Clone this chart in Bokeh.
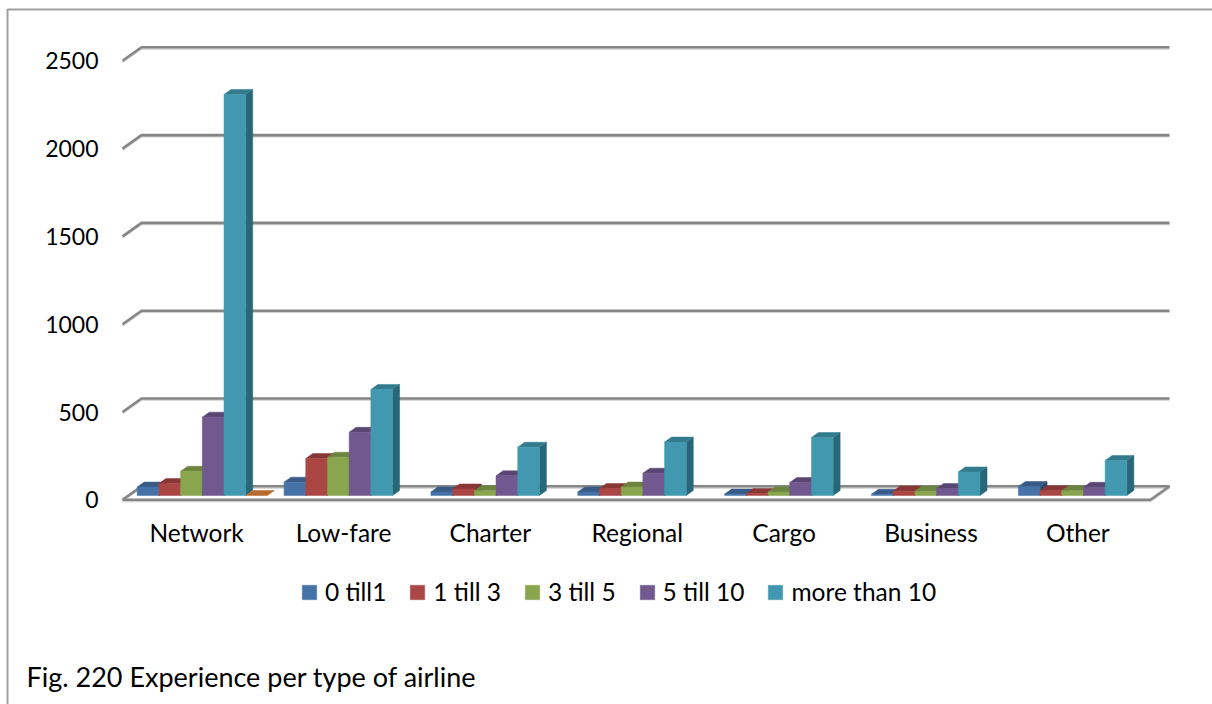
from bokeh.plotting import figure
from bokeh.embed import file_html
from bokeh.resources import INLINE
from bokeh.models import Range1d, FixedTicker, Legend, LegendItem, Label, LinearAxis

categories = ["Network", "Low-fare", "Charter", "Regional", "Cargo", "Business", "Other"]
series_names = ["0 till1", "1 till 3", "3 till 5", "5 till 10", "more than 10"]
v_0_1 = [48, 76, 20, 20, 8, 7, 51]
v_1_3 = [68, 210, 37, 40, 12, 25, 27]
v_3_5 = [138, 218, 28, 48, 20, 25, 27]
v_5_10 = [446, 360, 112, 127, 74, 40, 47]
v_10 = [2284, 604, 275, 304, 330, 134, 200]
v_extra = [0, None, None, None, None, None, None]
y_ticks = [0, 500, 1000, 1500, 2000, 2500]

front = ["#4672A8", "#AA4644", "#89A54E", "#71588F", "#4198AF", "#B96B2E"]
topc = ["#385A87", "#883735", "#6D843E", "#5A4672", "#337A8C", "#B96B2E"]
side = ["#2C4768", "#6B2B2A", "#566830", "#463758", "#276778", "#B96B2E"]
FONT = "Lato"
GRID = "#868686"
SHADOW = "#CFCFCF"

W, H = 1212, 704
L = 122
Y0 = 499.3
PXV = 0.1756
CAT = 146.86
xpx = lambda px: px / CAT
ypx = lambda px: px / PXV
X = lambda px: (px - L) / CAT
Y = lambda py: (Y0 - py) / PXV

p = figure(width=W, height=H, output_backend="svg", toolbar_location=None,
           x_range=Range1d(X(0), X(W)), y_range=Range1d(Y(H), Y(0)),
           x_axis_type=None, y_axis_type=None,
           min_border=0)
p.outline_line_color = None
p.grid.visible = False

# outer border (left and top edges are the visible ones)
p.line([X(7), X(7), X(W)], [Y(H), Y(9), Y(9)], line_color="#A0A0A0", line_width=2)

# gridlines and floor
ddx, ddy = xpx(19), ypx(13.5)
xe = 7.0
sh = ypx(1.6)
for t in y_ticks:
    p.line([0, ddx, xe + ddx], [t - sh, t + ddy - sh, t + ddy - sh], line_color=SHADOW, line_width=1.5)
    p.line([0, ddx, xe + ddx], [t, t + ddy, t + ddy], line_color=GRID, line_width=2.6)
p.line([0, xe, xe + ddx], [-sh, -sh, ddy - sh], line_color=SHADOW, line_width=1.5)
p.line([0, xe, xe + ddx], [0, 0, ddy], line_color=GRID, line_width=2.6)

all_vals = [v_0_1, v_1_3, v_3_5, v_5_10, v_10, v_extra]
bw = xpx(21.7)
gap = xpx(14.7)
bdx, bdy = xpx(7), ypx(5)
base = ypx(4.3)
renderers = []
for k, vals in enumerate(all_vals):
    lefts, rights, bottoms, tops = [], [], [], []
    for i, v in enumerate(vals):
        if v is None:
            continue
        lefts.append(i + gap + k * bw)
        rights.append(i + gap + (k + 1) * bw)
        bottoms.append(base)
        tops.append(base + v)
    if k < 5:
        p.patches([[r, r + bdx, r + bdx, r] for r in rights],
                  [[b, b + bdy, t + bdy, t] for b, t in zip(bottoms, tops)],
                  fill_color=side[k], line_color=side[k], line_width=0.5)
    p.patches([[l, r, r + bdx, l + bdx] for l, r in zip(lefts, rights)],
              [[t, t, t + bdy, t + bdy] for t in tops],
              fill_color=topc[k], line_color=topc[k], line_width=0.5)
    if k < 5:
        renderers.append(p.quad(left=lefts, right=rights, bottom=bottoms, top=tops,
                                fill_color=front[k], line_color=front[k], line_width=0.5))

# axes, fixed inside the full-canvas frame
ya = LinearAxis(fixed_location=0, ticker=FixedTicker(ticks=y_ticks))
ya.axis_line_color = None
ya.major_tick_line_color = None
ya.minor_tick_line_color = None
ya.major_label_standoff = 18
ya.major_label_text_font = FONT
ya.major_label_text_font_size = "23px"
ya.major_label_text_color = "#000000"
p.add_layout(ya, "left")

ticks = [i + 0.505 for i in range(7)]
xa = LinearAxis(fixed_location=Y(501), ticker=FixedTicker(ticks=ticks))
xa.major_label_overrides = {t: c for t, c in zip(ticks, categories)}
xa.axis_line_color = None
xa.major_tick_line_color = None
xa.minor_tick_line_color = None
xa.major_label_standoff = 10
xa.major_label_text_font = FONT
xa.major_label_text_font_size = "24.5px"
xa.major_label_text_color = "#000000"
p.add_layout(xa, "below")

# legend
legend = Legend(items=[LegendItem(label=n, renderers=[r]) for n, r in zip(series_names, renderers)],
                orientation="horizontal", location=(300, H - 606), glyph_width=18, glyph_height=18,
                label_standoff=7, spacing=22, padding=0, margin=0,
                background_fill_alpha=0, border_line_color=None,
                label_text_font=FONT, label_text_font_size="24.5px", label_text_color="#000000")
p.add_layout(legend, "center")

# caption
p.add_layout(Label(x=X(26), y=Y(676), text="Fig. 220 Experience per type of airline",
                   text_font=FONT, text_font_size="27px", text_color="#000000",
                   text_baseline="middle", text_align="left"))

open("out.html", "w").write(file_html(p, INLINE))
